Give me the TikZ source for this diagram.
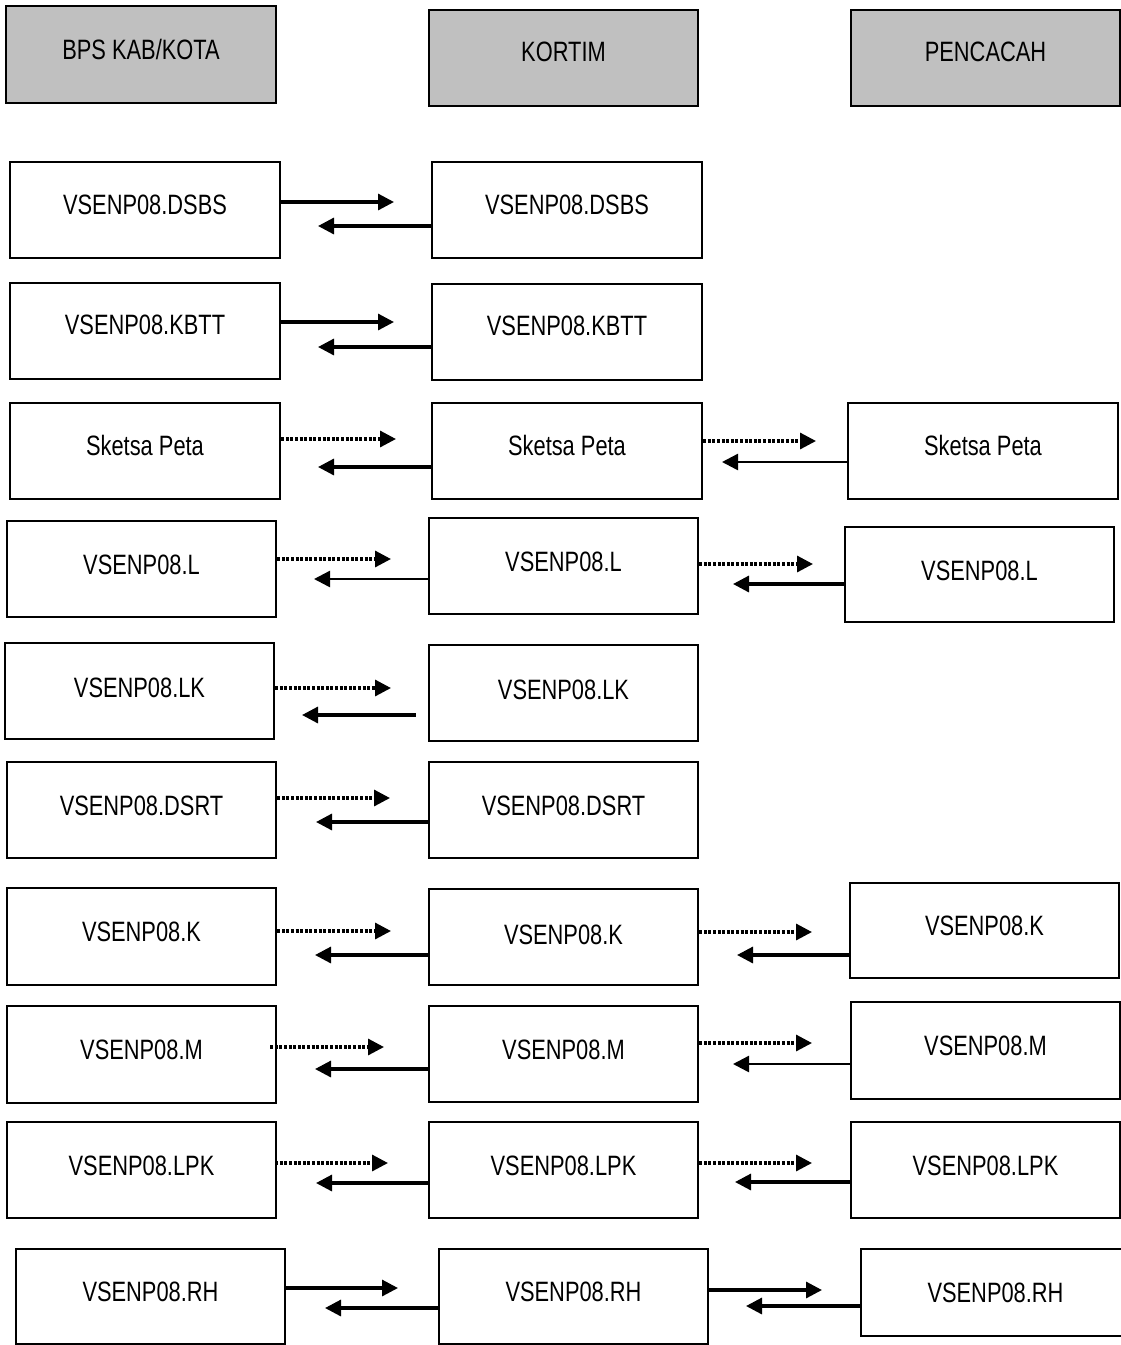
\documentclass[tikz,border=0pt]{standalone}
\usepackage{fontspec}
\setmainfont[FakeStretch=0.78]{Liberation Sans}
\usetikzlibrary{arrows.meta,calc}
\definecolor{hdrgray}{HTML}{C0C0C0}
\tikzset{
  box/.style={draw=black, line width=2.4pt, inner sep=0pt, fill=white, font=\fontsize{28}{30}\selectfont},
  hdr/.style={box, fill=hdrgray},
  sol/.style={line width=3.2pt, -{Triangle[length=16pt,width=16pt]}},
  thin/.style={line width=2.5pt, -{Triangle[length=16pt,width=16pt]}},
  dot/.style={line width=3.2pt, dash pattern=on 3pt off 1.6pt, -{Triangle[length=16pt,width=16pt]}},
}
\newcommand\bx[8][box]{%
  \pgfmathsetmacro\bxCx{(#3+#5)/2}%
  \pgfmathsetmacro\bxCy{(#4+#6)/2}%
  \pgfmathsetmacro\bxW{#5-#3}%
  \pgfmathsetmacro\bxH{#6-#4}%
  \pgfmathsetmacro\bxT{19.5-2*(\bxCy-#7)}%
  \node[#1, minimum width=\bxW pt, minimum height=\bxH pt, text height=\bxT pt, text depth=0pt] (#2) at (\bxCx,\bxCy) {#8};}
% \arr[style]{node.anchor}{dx}{y}{xend}{coordname}
\newcommand\arr[6][sol]{%
  \coordinate (#6) at (#5,#4);
  \draw[#1] ($(#2 |- #6)+(#3,0)$) -- (#6);}
\begin{document}
\begin{tikzpicture}[x=1pt,y=-1pt]
\useasboundingbox (0,0) rectangle (1121,1345);
% headers
\bx[hdr]{h1}{6}{6}{276}{103}{50}{BPS KAB/KOTA}
\bx[hdr]{h2}{429}{10}{698}{106}{52}{KORTIM}
\bx[hdr]{h3}{851}{10}{1120}{106}{52}{PENCACAH}
% row DSBS
\bx{a1}{10}{162}{280}{258}{205}{VSENP08.DSBS}
\bx{a2}{432}{162}{702}{258}{205}{VSENP08.DSBS}
% row KBTT
\bx{b1}{10}{283}{280}{379}{325}{VSENP08.KBTT}
\bx{b2}{432}{284}{702}{380}{326}{VSENP08.KBTT}
% row Sketsa
\bx{c1}{10}{403}{280}{499}{446}{Sketsa Peta}
\bx{c2}{432}{403}{702}{499}{446}{Sketsa Peta}
\bx{c3}{848}{403}{1118}{499}{446}{Sketsa Peta}
% row L
\bx{d1}{7}{521}{276}{617}{565}{VSENP08.L}
\bx{d2}{429}{518}{698}{614}{562}{VSENP08.L}
\bx{d3}{845}{527}{1114}{622}{571}{VSENP08.L}
% row LK
\bx{e1}{5}{643}{274}{739}{688}{VSENP08.LK}
\bx{e2}{429}{645}{698}{741}{690}{VSENP08.LK}
% row DSRT
\bx{f1}{7}{762}{276}{858}{806}{VSENP08.DSRT}
\bx{f2}{429}{762}{698}{858}{806}{VSENP08.DSRT}
% row K
\bx{g1}{7}{888}{276}{985}{932}{VSENP08.K}
\bx{g2}{429}{889}{698}{985}{935}{VSENP08.K}
\bx{g3}{850}{883}{1119}{978}{926}{VSENP08.K}
% row M
\bx{m1}{7}{1006}{276}{1103}{1050}{VSENP08.M}
\bx{m2}{429}{1006}{698}{1102}{1050}{VSENP08.M}
\bx{m3}{851}{1002}{1120}{1099}{1046}{VSENP08.M}
% row LPK
\bx{p1}{7}{1122}{276}{1218}{1166}{VSENP08.LPK}
\bx{p2}{429}{1122}{698}{1218}{1166}{VSENP08.LPK}
\bx{p3}{851}{1122}{1120}{1218}{1166}{VSENP08.LPK}
% row RH
\bx{r1}{16}{1249}{285}{1344}{1292}{VSENP08.RH}
\bx{r2}{439}{1249}{708}{1344}{1292}{VSENP08.RH}
\bx{r3}{861}{1249}{1130}{1336}{1293}{VSENP08.RH}
% arrows
\arr[sol]{a1.east}{0}{202}{394}{ta1}
\arr[sol]{a2.west}{0}{226}{318}{ta2}
\arr[sol]{b1.east}{0}{322}{394}{tb1}
\arr[sol]{b2.west}{0}{347}{318}{tb2}
\arr[dot]{c1.east}{0}{439}{396}{tc1}
\arr[sol]{c2.west}{0}{467}{318}{tc2}
\arr[dot]{c2.east}{0}{441}{816}{tc3}
\arr[thin]{c3.west}{0}{462}{722}{tc4}
\arr[dot]{d1.east}{0}{559}{391}{td1}
\arr[thin]{d2.west}{0}{579}{314}{td2}
\arr[dot]{d2.east}{0}{564}{813}{td3}
\arr[sol]{d3.west}{0}{584}{733}{td4}
\arr[dot]{e1.east}{0}{688}{391}{te1}
\arr[sol]{e2.west}{-12}{715}{302}{te2}
\arr[dot]{f1.east}{0}{798}{390}{tf1}
\arr[sol]{f2.west}{0}{822}{316}{tf2}
\arr[dot]{g1.east}{0}{931}{391}{tg1}
\arr[sol]{g2.west}{0}{955}{315}{tg2}
\arr[dot]{g2.east}{0}{932}{812}{tg3}
\arr[sol]{g3.west}{0}{955}{737}{tg4}
\arr[dot]{m1.east}{-7}{1047}{384}{tm1}
\arr[sol]{m2.west}{0}{1069}{315}{tm2}
\arr[dot]{m2.east}{0}{1043}{812}{tm3}
\arr[thin]{m3.west}{0}{1064}{733}{tm4}
\arr[dot]{p1.east}{-2}{1163}{388}{tp1}
\arr[sol]{p2.west}{0}{1183}{316}{tp2}
\arr[dot]{p2.east}{0}{1163}{812}{tp3}
\arr[sol]{p3.west}{0}{1182}{735}{tp4}
\arr[sol]{r1.east}{-2}{1288}{398}{tr1}
\arr[sol]{r2.west}{0}{1308}{325}{tr2}
\arr[sol]{r2.east}{0}{1290}{822}{tr3}
\arr[sol]{r3.west}{0}{1306}{746}{tr4}
\end{tikzpicture}
\end{document}
